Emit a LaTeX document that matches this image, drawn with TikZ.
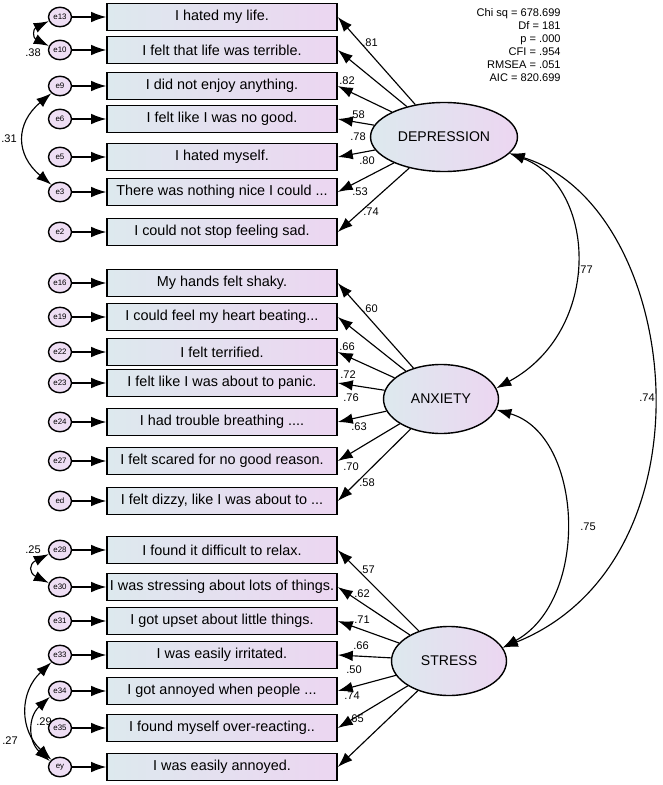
\documentclass[tikz,border=0pt]{standalone}
\usepackage{fontspec}
\setmainfont{Liberation Sans}
\usetikzlibrary{positioning, shapes.geometric, arrows.meta}

\definecolor{boxleft}{RGB}{221,233,238}
\definecolor{boxright}{RGB}{236,214,241}
\definecolor{errfill}{RGB}{238,222,244}

\begin{document}
\begin{tikzpicture}[x=0.2mm, y=-0.2mm,
    item/.style={rectangle, draw, line width=0.9pt, minimum width=46mm, minimum height=5.4mm, inner sep=0pt, left color=boxleft, right color=boxright, font=\fontsize{8.2}{9}\selectfont},
    err/.style={ellipse, draw, line width=0.8pt, fill=errfill, minimum width=4.6mm, minimum height=3.9mm, inner sep=0pt, font=\fontsize{4.5}{5}\selectfont},
    factor/.style={ellipse, draw, line width=0.8pt, minimum width=23mm, minimum height=13.8mm, left color=boxleft, right color=boxright, font=\fontsize{8}{9}\selectfont},
    load/.style={-{Latex[length=3mm, width=2.1mm]}, line width=0.65pt},
    cov/.style={{Latex[length=3mm, width=2.1mm]}-{Latex[length=3mm, width=2.1mm]}, line width=0.65pt},
    coef/.style={inner sep=0pt, font=\fontsize{6.3}{7}\selectfont}]
        \useasboundingbox (0,0) rectangle (662,785);

        % Observed items
        \foreach \n/\y/\t in {d1/17/{I hated my life.}, d2/50/{I felt that life was terrible.}, d3/86/{I did not enjoy anything.}, d4/119/{I felt like I was no good.}, d5/157/{I hated myself.}, d6/192/{There was nothing nice I could ...}, d7/232/{I could not stop feeling sad.},
                              a1/283/{My hands felt shaky.}, a2/317/{I could feel my heart beating...}, a3/352/{I felt terrified.}, a4/383/{I felt like I was about to panic.}, a5/422/{I had trouble breathing ....}, a6/461/{I felt scared for no good reason.}, a7/501/{I felt dizzy, like I was about to ...},
                              s1/550/{I found it difficult to relax.}, s2/587/{I was stressing about lots of things.}, s3/621/{I got upset about little things.}, s4/655/{I was easily irritated.}, s5/691/{I got annoyed when people ...}, s6/728/{I found myself over-reacting..}, s7/767/{I was easily annoyed.}} {
            \node[item] (\n) at (222,\y) {\t};
        }

        % Error terms
        \foreach \e/\n/\y in {e13/d1/17, e10/d2/50, e9/d3/86, e6/d4/119, e5/d5/157, e3/d6/192, e2/d7/232,
                              e16/a1/283, e19/a2/317, e22/a3/352, e23/a4/383, e24/a5/422, e27/a6/461, ed/a7/501,
                              e28/s1/550, e30/s2/587, e31/s3/621, e33/s4/655, e34/s5/691, e35/s6/728, ey/s7/767} {
            \node[err] (\e) at (60,\y) {\e};
            \draw[load] (\e) -- (\n);
        }

        % Latent factors
        \node[factor] (dep) at (444,137) {DEPRESSION};
        \node[factor] (anx) at (441,399) {ANXIETY};
        \node[factor] (str) at (449,661) {STRESS};

        \foreach \i in {1,...,7} {
            \draw[load] (dep) -- (d\i.east);
            \draw[load] (anx) -- (a\i.east);
            \draw[load] (str) -- (s\i.east);
        }

        % Loadings
        \foreach \x/\y/\v [count=\k] in {370/43/.81, 347/81/.82, 357/115/.58, 358/137/.78, 367/161/.80, 360/192/.53, 371/212/.74} {
            \node[coef] (ld\k) at (\x,\y) {\v};
        }
        \foreach \x/\y/\v [count=\k] in {370/309/.60, 347/347/.66, 348/375/.72, 351/398/.76, 359/427/.63, 351/467/.70, 367/483/.58} {
            \node[coef] (la\k) at (\x,\y) {\v};
        }
        \foreach \x/\y/\v [count=\k] in {367/570/.57, 362/594/.62, 362/620/.71, 361/646/.66, 354/670/.50, 352/696/.74, 356/719/.65} {
            \node[coef] (ls\k) at (\x,\y) {\v};
        }

        % Factor correlations
        \draw[cov] (dep.-14) .. controls +(87,33) and +(107,-58) .. (anx.11);
        \draw[cov] (dep.-14) .. controls +(172,53) and +(218,-88) .. (str.14);
        \draw[cov] (anx.-11) .. controls +(87,25) and +(88,-48) .. (str.14);
        \node[coef] (r1) at (585,270) {.77};
        \node[coef] (r2) at (647,398) {.74};
        \node[coef] (r3) at (588,527) {.75};

        % Error covariances
        \draw[cov] (e13.200) .. controls +(-16,8) and +(-16,-8) .. (e10.160);
        \draw[cov] (e9.220) .. controls +(-36,30) and +(-36,-30) .. (e3.140);
        \draw[cov] (e28.200) .. controls +(-20,10) and +(-20,-10) .. (e30.160);
        \draw[cov] (e33.220) .. controls +(-32,30) and +(-32,-30) .. (ey.140);
        \draw[cov] (e34.210) .. controls +(-22,20) and +(-22,-20) .. (ey.150);
        \node[coef] (c1) at (33,53) {.38};
        \node[coef] (c2) at (9,139) {.31};
        \node[coef] (c3) at (33,550) {.25};
        \node[coef] (c4) at (44,722) {.29};
        \node[coef] (c5) at (10,741) {.27};

        % Fit indices
        \node[inner sep=0pt, anchor=north east, align=right, font=\fontsize{6.3}{7.4}\selectfont] (fit) at (561,8) {Chi sq = 678.699\\Df = 181\\p = .000\\CFI = .954\\RMSEA = .051\\AIC = 820.699};
\end{tikzpicture}
\end{document}
